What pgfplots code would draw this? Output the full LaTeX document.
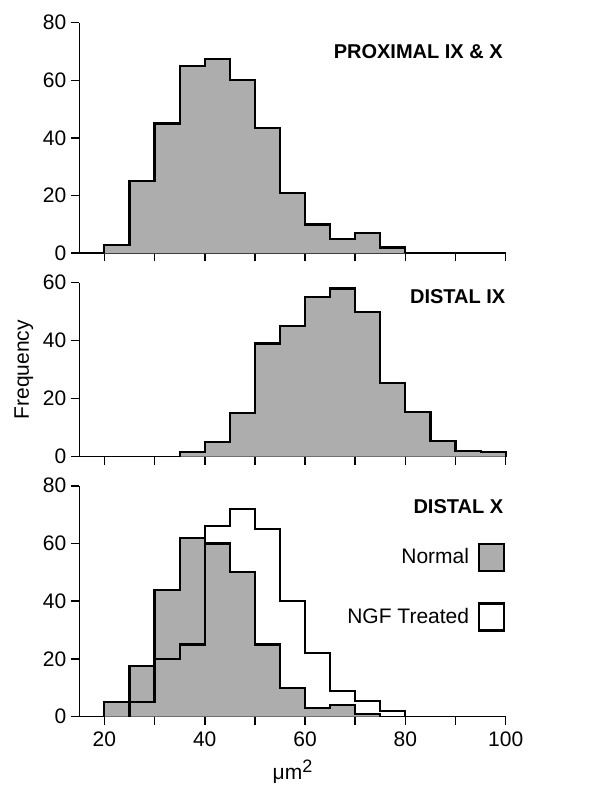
\documentclass[border=0pt]{standalone}
\usepackage{fontspec}
\setmainfont{Liberation Sans}
\usepackage{pgfplots}
\pgfplotsset{compat=1.18}
\definecolor{shade}{gray}{0.68}
\newcommand{\fs}{\fontsize{10.5}{12.5}\selectfont}
\pgfplotsset{
  histaxis/.style={
    scale only axis,
    width=213.2pt,
    xmin=15, xmax=100,
    axis x line*=bottom, axis y line*=left,
    tick align=outside,
    major tick length=4pt,
    xtick={20,30,...,100},
    axis line style={line width=0.8pt},
    every tick/.style={line width=0.8pt, black},
    tick label style={font=\fs},
    yticklabel style={xshift=1pt},
    /pgf/number format/assume math mode=true,
    clip=false,
    anchor=south west,
  },
  hist/.style={const plot, draw=black, line width=1.1pt, fill=shade},
}
\begin{document}
\begin{tikzpicture}
\useasboundingbox (0,0) rectangle (300.5pt,396pt);
% top panel
\begin{axis}[histaxis, at={(39.65pt,269.35pt)}, height=115.3pt,
  ymin=0, ymax=80, ytick={0,20,...,80}, xticklabels={}]
\addplot[hist] coordinates {(20,0)(20,3)(25,25)(30,45)(35,65)(40,67.5)(45,60)(50,43.5)(55,21)(60,10)(65,5)(70,7)(75,2)(80,2)(80,0)};
\node[anchor=east, inner sep=0pt, font=\fontsize{10}{12}\selectfont\bfseries] at (rel axis cs:0.994,0.873) {PROXIMAL IX \& X};
\end{axis}
% middle panel
\begin{axis}[histaxis, at={(39.65pt,167.65pt)}, height=87pt,
  ymin=0, ymax=60, ytick={0,20,...,60}, xticklabels={},
  ylabel={Frequency}, ylabel style={font=\fs, yshift=-2pt}]
\addplot[hist] coordinates {(35,0)(35,1.5)(40,5)(45,15)(50,39)(55,45)(60,55)(65,58)(70,50)(75,25.5)(80,15.5)(85,5.5)(90,2)(95,1.5)(100,1.5)(100,0)};
\node[anchor=east, inner sep=0pt, font=\fontsize{10}{12}\selectfont\bfseries] at (rel axis cs:1.0,0.92) {DISTAL IX};
\end{axis}
% bottom panel
\begin{axis}[histaxis, at={(39.65pt,37.65pt)}, height=115.5pt,
  ymin=0, ymax=80, ytick={0,20,...,80},
  xticklabels={20,,40,,60,,80,,100},
  xlabel={μm\raisebox{0.55ex}{\fontsize{9}{10}\selectfont 2}},
  xlabel style={font=\fs},
  legend plot pos=right,
  legend image code/.code={\draw[#1] (0pt,-6.75pt) rectangle (12.5pt,6.75pt);},
  legend style={at={(rel axis cs:1,0.753)}, anchor=north east, draw=none, fill=none,
    inner sep=0pt, row sep=15pt, column sep=4.5pt,
    font=\fs, legend cell align=right,
    nodes={inner sep=0pt}},
  ]
\addplot[hist] coordinates {(20,0)(20,5)(25,17.5)(30,44)(35,62)(40,60)(45,50)(50,25)(55,10)(60,3)(65,4)(70,1)(75,1)(75,0)};
\addlegendentry{Normal}
\addplot[const plot, draw=black, line width=1.1pt, fill=white, fill opacity=0] coordinates {(25,0)(25,5)(30,20)(35,25)(40,66)(45,72)(50,65)(55,40)(60,22)(65,9)(70,5.5)(75,2)(80,2)(80,0)};
\addlegendentry{NGF Treated}
\node[anchor=east, inner sep=0pt, font=\fontsize{10}{12}\selectfont\bfseries] at (rel axis cs:0.995,0.909) {DISTAL X};
\end{axis}
\end{tikzpicture}
\end{document}
